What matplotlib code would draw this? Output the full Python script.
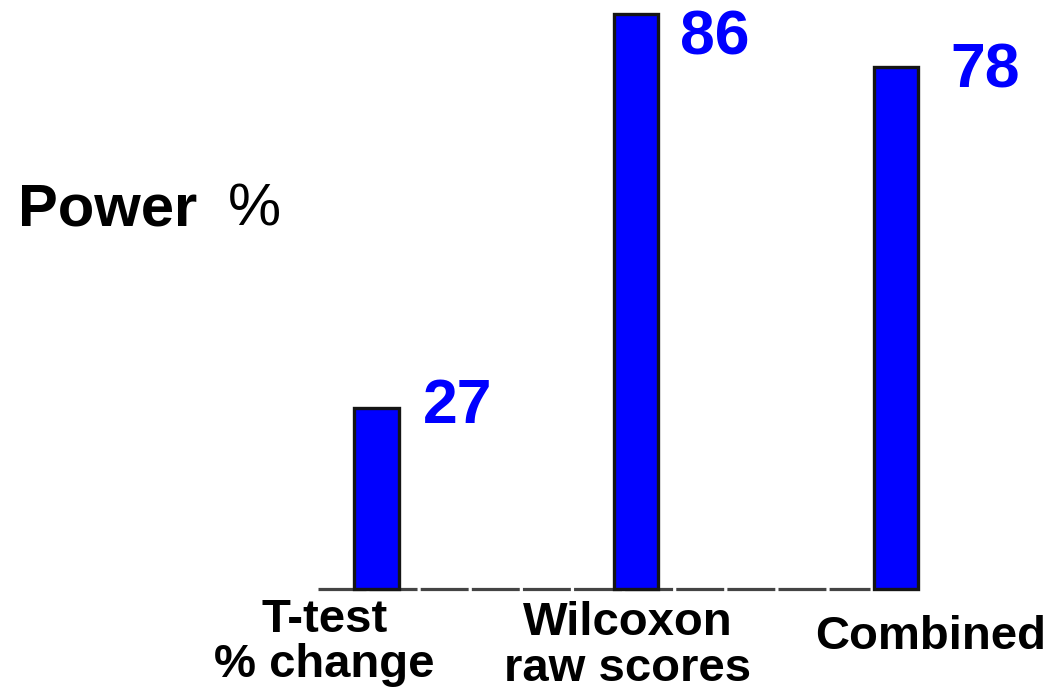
import numpy as np
import matplotlib.pyplot as plt

# 검정 방법별 검정력(%)
methods = ["T-test\n% change", "Wilcoxon\nraw scores", "Combined"]
power = [27, 86, 78]

plt.rcParams['font.family'] = ['Liberation Sans', 'DejaVu Sans']

fig = plt.figure(figsize=(10.53, 6.90), dpi=100)
ax = fig.add_axes([0, 0, 1, 1])
ax.set_xlim(-1.4495, 2.6044)
ax.set_ylim(-15.10, 88.04)
ax.axis('off')

x = np.arange(len(power))

# 바닥 점선
ax.plot([-0.225, 1.9], [0, 0], color='#444444', lw=2.3,
        dashes=(15, 1.0), zorder=1, solid_capstyle='butt')

# 막대
ax.bar(x, power, width=0.17, color='#0000ff', edgecolor='#151515',
       linewidth=2.4, zorder=2)

# 값 표시 (막대 오른쪽 위)
dx = [0.18, 0.17, 0.21]
dy = [0.3, -3.7, -0.5]
for i, v in enumerate(power):
    ax.text(x[i] + dx[i], v + dy[i], str(v), color='#0000ff',
            fontsize=45, fontweight='bold', ha='left', va='center')

# 항목 이름
lx = [-0.2, -0.033, 0.135]
ly = [-1.3, -1.85, -3.9]
for i, name in enumerate(methods):
    ax.text(x[i] + lx[i], ly[i], name, fontsize=34, fontweight='bold',
            ha='center', va='top', linespacing=1.05)

# 세로축 제목
fig.text(18 / 1053, 1 - 210 / 690, "Power", fontsize=43, fontweight='bold',
         ha='left', va='center')
fig.text(228 / 1053, 1 - 210 / 690, "%", fontsize=43,
         ha='left', va='center')

fig.savefig("out.png", dpi=100)
